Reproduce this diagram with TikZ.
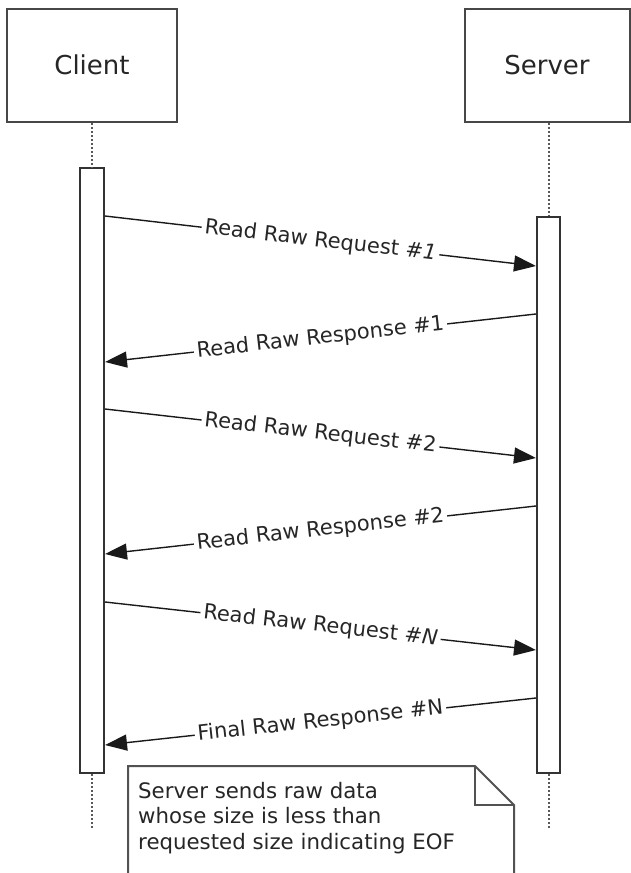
\documentclass[tikz,border=0pt]{standalone}
\usepackage{fontspec}
\setmainfont{DejaVu Sans}
\usetikzlibrary{arrows.meta}
\begin{document}
\begin{tikzpicture}[x=1pt,y=-1pt,
 actor/.style={draw=black!72,line width=2pt,fill=white,inner sep=0pt,minimum height=113pt,font=\fontsize{26}{30}\selectfont,text=black!85},
 bar/.style={draw=black!80,line width=2pt,fill=white,inner sep=0pt},
 life/.style={draw=black!65,line width=2pt,dash pattern=on 2pt off 2pt},
 msg/.style={draw=black!90,line width=1.4pt,-{Triangle[length=22pt,width=16pt]}},
 lbl/.style={fill=white,inner sep=3pt,font=\fontsize{21}{25}\selectfont,sloped,text=black!85},
 notebox/.style={draw=black!68,line width=2pt,fill=white},
 notetext/.style={font=\fontsize{21.3}{25.5}\selectfont,align=left,text=black!85,inner sep=0pt,anchor=north west}
]
\useasboundingbox (0,0) rectangle (631,873);
% actors
\node[actor,minimum width=170pt] (client) at (92,65) {Client};
\node[actor,minimum width=165pt] (server) at (547,65) {Server};
% activation bars
\node[bar,minimum width=24pt,minimum height=605pt] (cbar) at (92,470.5) {};
\node[bar,minimum width=23pt,minimum height=556pt] (sbar) at (548.5,495) {};
% lifelines
\coordinate (cend) at (92,828);
\coordinate (send) at (548.5,828);
\draw[life] (client.south) -- (cbar.north);
\draw[life] (server.south -| sbar.north) -- (sbar.north);
\draw[life] (cbar.south) -- (cend);
\draw[life] (sbar.south) -- (send);
% messages
\coordinate (c1) at (cbar.east |- 0,216);
\coordinate (s1) at (sbar.west |- 0,266);
\coordinate (s2) at (sbar.west |- 0,314);
\coordinate (c2) at (cbar.east |- 0,362);
\coordinate (c3) at (cbar.east |- 0,409);
\coordinate (s3) at (sbar.west |- 0,458);
\coordinate (s4) at (sbar.west |- 0,506);
\coordinate (c4) at (cbar.east |- 0,554);
\coordinate (c5) at (cbar.east |- 0,602);
\coordinate (s5) at (sbar.west |- 0,650);
\coordinate (s6) at (sbar.west |- 0,698);
\coordinate (c6) at (cbar.east |- 0,745);
\draw[msg] (c1) -- node[lbl] (l1) {Read Raw Request \textit{\#1}} (s1);
\draw[msg] (s2) -- node[lbl] (l2) {Read Raw Response \#1} (c2);
\draw[msg] (c3) -- node[lbl] (l3) {Read Raw Request \#2} (s3);
\draw[msg] (s4) -- node[lbl] (l4) {Read Raw Response \#2} (c4);
\draw[msg] (c5) -- node[lbl] (l5) {Read Raw Request \textit{\#N}} (s5);
\draw[msg] (s6) -- node[lbl] (l6) {Final Raw Response \#N} (c6);
% note
\draw[notebox] (128,766) -- (475,766) -- (514,805) -- (514,885) -- (128,885) -- cycle;
\draw[notebox,fill=none] (475,766) -- (475,805) -- (514,805);
\node[notetext] (note) at (138,782) {Server sends raw data\\whose size is less than\\requested size indicating EOF};
\end{tikzpicture}
\end{document}
